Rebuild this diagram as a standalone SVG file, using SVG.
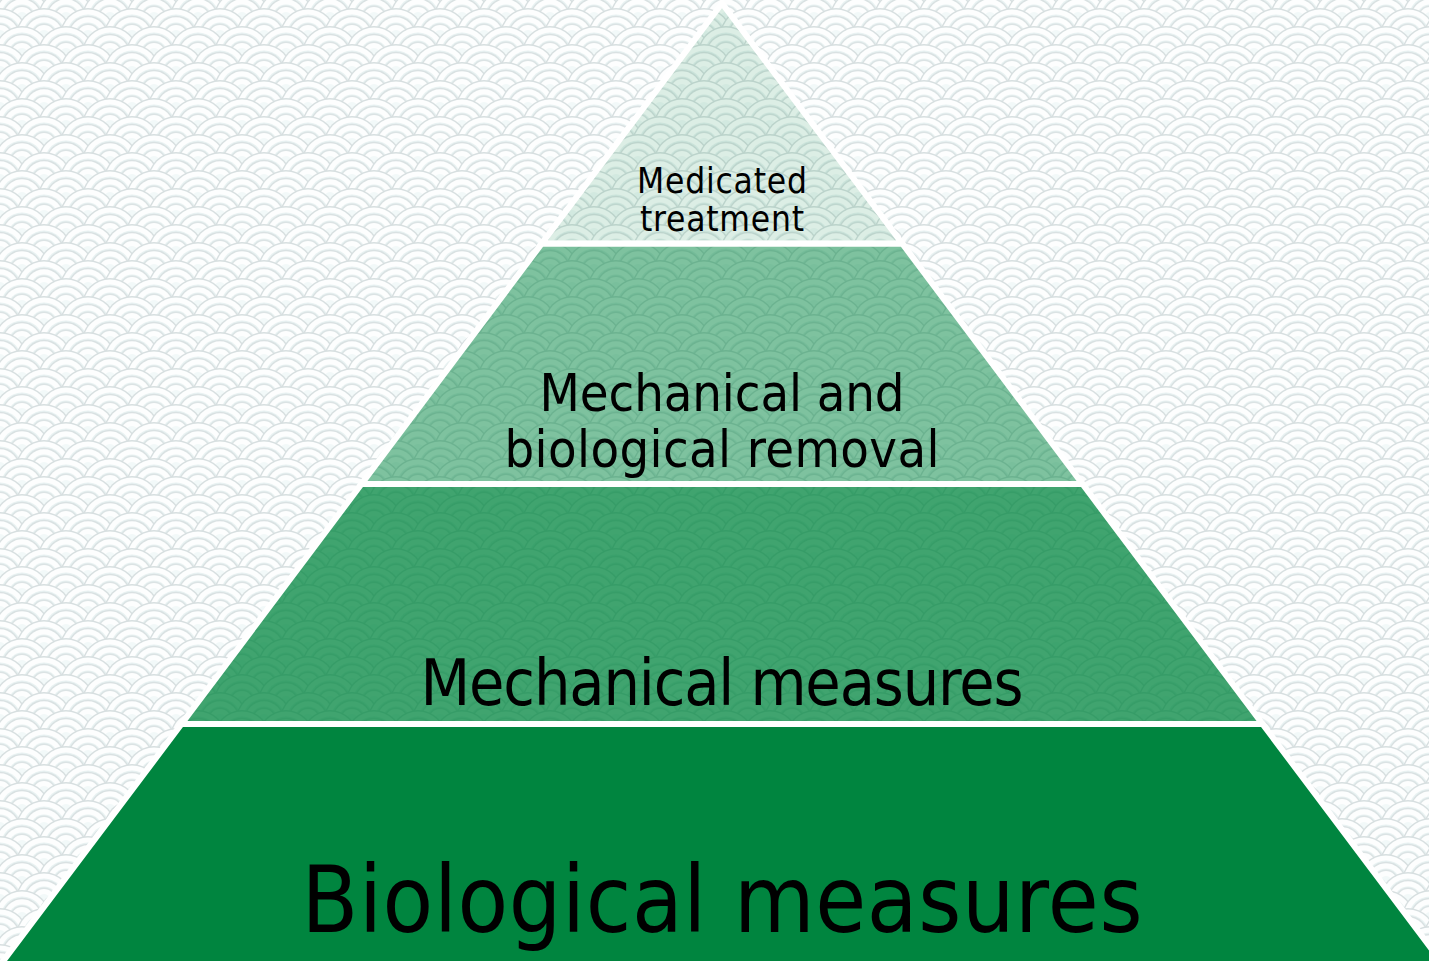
<svg xmlns="http://www.w3.org/2000/svg" xmlns:xlink="http://www.w3.org/1999/xlink" width="1429" height="961" viewBox="0 0 1429 961">
  <style>
    .tier { stroke: #ffffff; stroke-width: 6; stroke-linejoin: miter; }
    .lbl { font-family: 'DejaVu Sans Condensed', 'Liberation Sans', sans-serif; fill: #000000; text-anchor: middle; }
  </style>
  <defs>
    <g id="scale">
      <circle r="28" fill="#d7dfe0"/>
      <circle r="26.6" fill="#fdfefe"/>
      <circle r="21.4" fill="#e8f2f2"/>
      <circle r="20.2" fill="#d9e1e2"/>
      <circle r="18.8" fill="#fdfefe"/>
      <circle r="13.6" fill="#e8f2f2"/>
      <circle r="12.4" fill="#dbe3e4"/>
      <circle r="11" fill="#fdfefe"/>
      <circle r="6" fill="#f2f9f9"/>
    </g>
    <pattern id="waves" x="0" y="0" width="44" height="36" patternUnits="userSpaceOnUse">
      <rect width="44" height="36" fill="#f4fafa"/>
      <use xlink:href="#scale" href="#scale" x="-22" y="-18"/>
      <use xlink:href="#scale" href="#scale" x="22" y="-18"/>
      <use xlink:href="#scale" href="#scale" x="66" y="-18"/>
      <use xlink:href="#scale" href="#scale" x="0" y="0"/>
      <use xlink:href="#scale" href="#scale" x="44" y="0"/>
      <use xlink:href="#scale" href="#scale" x="-22" y="18"/>
      <use xlink:href="#scale" href="#scale" x="22" y="18"/>
      <use xlink:href="#scale" href="#scale" x="66" y="18"/>
      <use xlink:href="#scale" href="#scale" x="0" y="36"/>
      <use xlink:href="#scale" href="#scale" x="44" y="36"/>
      <use xlink:href="#scale" href="#scale" x="-22" y="54"/>
      <use xlink:href="#scale" href="#scale" x="22" y="54"/>
      <use xlink:href="#scale" href="#scale" x="66" y="54"/>
    </pattern>
  </defs>

  <rect id="background" x="0" y="0" width="1429" height="961" fill="url(#waves)"/>

  <g id="tier-biological-measures">
    <polygon class="tier" points="181.5,724 1262.5,724 1446,968 -2,968" fill="#00853f"/>
    <text class="lbl" x="722" y="932" font-size="92" textLength="841" lengthAdjust="spacing">Biological measures</text>
  </g>

  <g id="tier-mechanical-measures">
    <polygon class="tier" points="361.5,484 1082.5,484 1262.5,724 181.5,724" fill="#00853f" fill-opacity="0.75"/>
    <text class="lbl" x="722" y="705" font-size="64" textLength="603" lengthAdjust="spacing">Mechanical measures</text>
  </g>

  <g id="tier-mechanical-biological-removal">
    <polygon class="tier" points="541.8,243.5 902.2,243.5 1082.5,484 361.5,484" fill="#00853f" fill-opacity="0.5"/>
    <text class="lbl" x="722" y="411" font-size="52" textLength="365" lengthAdjust="spacing">Mechanical and</text>
    <text class="lbl" x="722" y="467" font-size="52" textLength="435" lengthAdjust="spacing">biological removal</text>
  </g>

  <g id="tier-medicated-treatment">
    <polygon class="tier" points="722,3.3 902.2,243.5 541.8,243.5" fill="#00853f" fill-opacity="0.13"/>
    <text class="lbl" x="722" y="193" font-size="35" textLength="170" lengthAdjust="spacing">Medicated</text>
    <text class="lbl" x="722" y="231" font-size="35" textLength="164" lengthAdjust="spacing">treatment</text>
  </g>

  <g id="connectors"></g>
</svg>
